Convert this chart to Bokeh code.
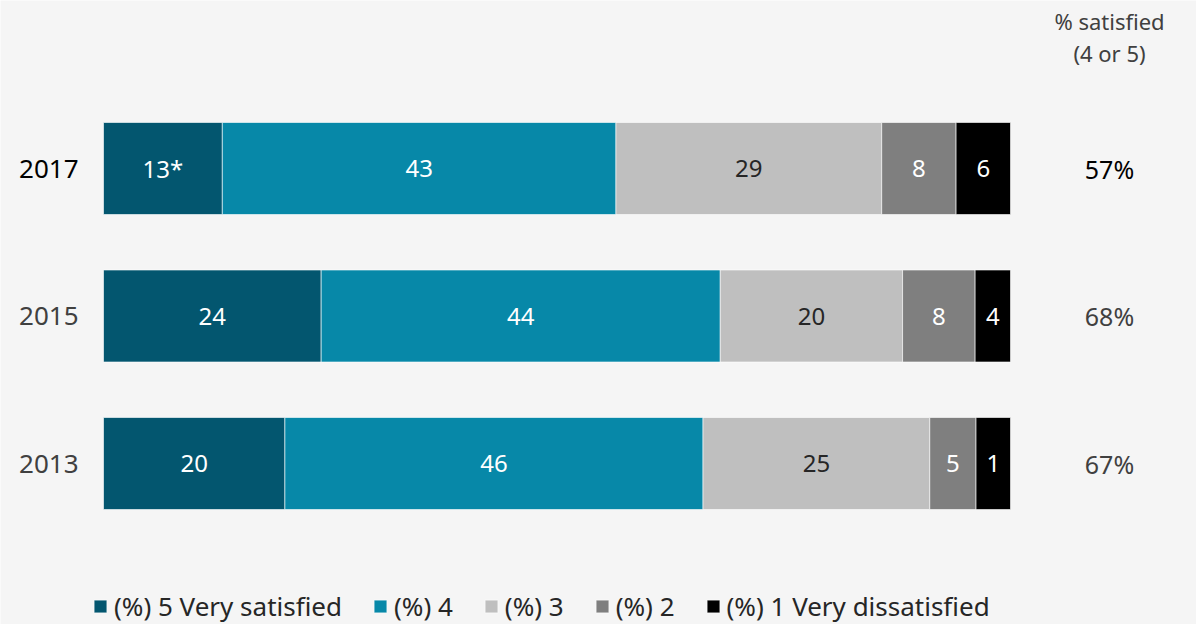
from bokeh.plotting import figure
from bokeh.models import ColumnDataSource, Legend, LegendItem, Range1d
from bokeh.core.properties import value
from bokeh.embed import file_html
from bokeh.resources import INLINE

years = ["2017", "2015", "2013"]
year_pos = [2, 1, 0]
series = ["(%) 5 Very satisfied", "(%) 4", "(%) 3", "(%) 2", "(%) 1 Very dissatisfied"]
colors = ["#03566F", "#0788A8", "#BFBFBF", "#7F7F7F", "#000000"]
label_colors = ["white", "white", "#262626", "white", "white"]
# segment widths (%)
s5 = [13.1, 24.0, 20.0]
s4 = [43.4, 44.0, 46.1]
s3 = [29.3, 20.1, 25.0]
s2 = [8.2, 8.0, 5.1]
s1 = [6.0, 3.9, 3.8]
# printed labels
l5 = ["13*", "24", "20"]
l4 = ["43", "44", "46"]
l3 = ["29", "20", "25"]
l2 = ["8", "8", "5"]
l1 = ["6", "4", "1"]
satisfied = ["57%", "68%", "67%"]
header = ["% satisfied", "(4 or 5)"]

FONT = "Noto Sans"
W, H = 1196, 624
PX = 9.07      # px per % unit
PY = 147.5     # px per row
p = figure(width=W, height=H, output_backend="svg", toolbar_location=None,
           x_range=Range1d(-103 / PX, (W - 103) / PX),
           y_range=Range1d(-(H - 463) / PY, 2 + 168 / PY),
           min_border=0, background_fill_color="#F5F5F5", border_fill_color="#F5F5F5")
p.axis.visible = False
p.grid.visible = False
p.outline_line_color = None

keys = ["s5", "s4", "s3", "s2", "s1"]
vals = [s5, s4, s3, s2, s1]
labs = [l5, l4, l3, l2, l1]
data = {"y": year_pos}
for k, v in zip(keys, vals):
    data[k] = v
src = ColumnDataSource(data)
renderers = p.hbar_stack(keys, y="y", height=92 / PY, color=colors, source=src,
                         line_color="white", line_width=1, line_alpha=0.6)

# segment labels
left = [0.0, 0.0, 0.0]
for v, lab, lc in zip(vals, labs, label_colors):
    centers = [l + x / 2 for l, x in zip(left, v)]
    p.text(x=centers, y=year_pos, text=lab, text_align="center", text_baseline="middle",
           text_font=value(FONT), text_font_size="24px", text_color=lc)
    left = [l + x for l, x in zip(left, v)]

# year labels
p.text(x=[-25 / PX] * 3, y=year_pos, text=years, text_align="right", text_baseline="middle",
       text_font=value(FONT), text_font_size="26px",
       text_color=["#000000", "#404040", "#404040"])
# satisfied column
xs = (1109 - 103) / PX
p.text(x=[xs] * 3, y=year_pos, text=satisfied, text_align="center", text_baseline="middle",
       text_font=value(FONT), text_font_size="25px",
       text_color=["#000000", "#404040", "#404040"])
p.text(x=[xs, xs], y=[2 + (168 - 20) / PY, 2 + (168 - 52) / PY], text=header,
       text_align="center", text_baseline="middle",
       text_font=value(FONT), text_font_size="22px", text_color="#404040")

legend = Legend(items=[LegendItem(label=s, renderers=[r]) for s, r in zip(series, renderers)],
                orientation="horizontal", location=(92, 0),
                glyph_width=16, glyph_height=16, label_standoff=6, spacing=30,
                label_text_font=FONT, label_text_font_size="26px", label_text_color="#262626",
                background_fill_alpha=0, border_line_color=None)
p.add_layout(legend)

open("out.html", "w").write(file_html(p, INLINE))
